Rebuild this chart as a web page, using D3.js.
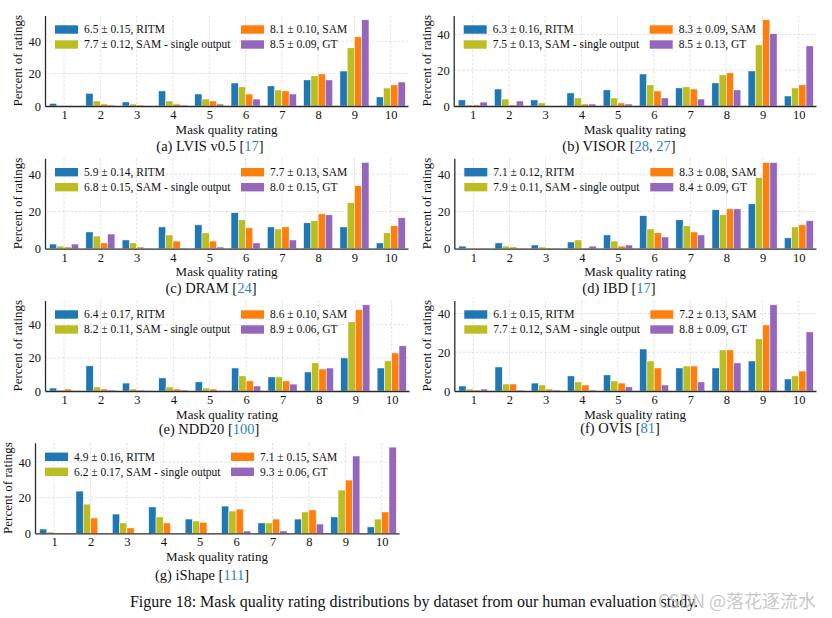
<!DOCTYPE html>
<html>
<head>
<meta charset="utf-8">
<script src="https://cdn.jsdelivr.net/npm/d3@7"></script>
<style>
  html, body { margin: 0; padding: 0; background: #fff; }
  svg { display: block; }
</style>
</head>
<body>
<svg id="chart" width="832" height="618"></svg>
<script>
// ---------------- DATA ----------------
const ratings = [1, 2, 3, 4, 5, 6, 7, 8, 9, 10];
const yTicks = [0, 20, 40];
const seriesNames = ["RITM", "SAM - single output", "SAM", "GT"];

// each: [RITM, SAM - single output, SAM, GT] percentages for ratings 1..10
const lvisValues = [
  [1.6, 7.8, 2.5, 9.3, 7.4, 14.2, 12.4, 16.1, 21.6, 5.6],
  [0.1, 3.1, 1.2, 3.1, 4.3, 11.8, 9.9, 18.6, 35.9, 11.1],
  [0.1, 1.2, 0.6, 1.2, 3.1, 7.4, 9.3, 19.8, 42.7, 13.0],
  [0.0, 0.6, 0.0, 0.6, 1.2, 4.3, 7.4, 16.1, 53.2, 14.8]
];
const lvisScores = ["6.5 ± 0.15", "7.7 ± 0.12", "8.1 ± 0.10", "8.5 ± 0.09"];

const visorValues = [
  [3.4, 9.5, 3.4, 7.3, 9.0, 17.9, 10.1, 12.9, 19.6, 5.6],
  [0.6, 3.9, 1.7, 4.5, 4.5, 11.8, 10.7, 17.4, 34.2, 10.1],
  [0.6, 0.6, 0.0, 1.1, 1.7, 8.4, 9.5, 18.5, 48.2, 11.8],
  [2.2, 2.8, 0.0, 1.1, 1.1, 4.5, 3.9, 9.0, 40.4, 33.6]
];
const visorScores = ["6.3 ± 0.16", "7.5 ± 0.13", "8.3 ± 0.09", "8.5 ± 0.13"];

const dramValues = [
  [2.5, 9.0, 4.7, 11.7, 12.8, 19.3, 11.7, 13.9, 11.7, 3.1],
  [1.4, 6.8, 3.1, 7.4, 8.5, 15.5, 10.6, 15.0, 24.7, 8.5],
  [0.9, 3.1, 0.9, 4.1, 4.1, 11.2, 11.7, 18.7, 33.9, 12.3],
  [2.5, 7.9, 0.1, 0.2, 0.9, 3.1, 4.7, 18.2, 46.3, 16.6]
];
const dramScores = ["5.9 ± 0.14", "6.8 ± 0.15", "7.7 ± 0.13", "8.0 ± 0.15"];

const ibdValues = [
  [1.4, 3.1, 2.0, 3.6, 7.4, 17.7, 15.5, 20.9, 24.1, 5.8],
  [0.1, 1.4, 0.9, 4.7, 4.1, 10.6, 12.3, 18.2, 38.2, 11.7],
  [0.1, 0.9, 0.1, 0.1, 1.4, 8.5, 9.0, 21.4, 46.3, 12.8],
  [0.1, 0.1, 0.1, 1.4, 2.0, 6.3, 7.4, 21.4, 46.3, 15.0]
];
const ibdScores = ["7.1 ± 0.12", "7.9 ± 0.11", "8.3 ± 0.08", "8.4 ± 0.09"];

const nddValues = [
  [1.8, 15.2, 4.8, 7.9, 5.5, 13.9, 8.5, 11.5, 20.0, 13.9],
  [0.6, 2.4, 1.2, 2.4, 1.8, 9.1, 8.5, 17.0, 41.8, 18.2],
  [1.2, 1.2, 0.6, 1.2, 1.2, 6.1, 6.1, 13.3, 49.1, 23.0],
  [0.1, 0.6, 0.1, 0.6, 0.1, 3.0, 4.2, 13.9, 52.1, 27.3]
];
const nddScores = ["6.4 ± 0.17", "8.2 ± 0.11", "8.6 ± 0.10", "8.9 ± 0.06"];

const ovisValues = [
  [2.6, 12.4, 4.1, 7.8, 8.3, 21.7, 11.9, 11.9, 15.5, 6.2],
  [1.0, 3.6, 3.1, 4.7, 5.2, 15.5, 12.9, 21.2, 26.9, 7.8],
  [0.5, 3.6, 1.0, 3.1, 4.1, 11.9, 12.9, 21.2, 34.1, 10.3],
  [1.0, 0.5, 0.5, 0.5, 2.1, 3.1, 4.7, 14.5, 44.5, 30.5]
];
const ovisScores = ["6.1 ± 0.15", "7.7 ± 0.12", "7.2 ± 0.13", "8.8 ± 0.09"];

const ishapeValues = [
  [2.4, 23.7, 10.8, 14.8, 8.0, 15.3, 5.8, 8.0, 9.2, 3.6],
  [0.7, 16.4, 5.8, 9.2, 6.9, 12.5, 5.8, 12.0, 24.3, 8.0],
  [0.1, 8.6, 3.0, 5.8, 6.2, 13.6, 8.0, 13.1, 29.9, 12.0],
  [0.1, 0.1, 0.1, 0.1, 0.1, 1.3, 1.3, 5.2, 43.4, 48.4]
];
const ishapeScores = ["4.9 ± 0.16", "6.2 ± 0.17", "7.1 ± 0.15", "9.3 ± 0.06"];

// caption parts: [text, isCitation]
const captionA = [["(a) LVIS v0.5 [", false], ["17", true], ["]", false]];
const captionB = [["(b) VISOR [", false], ["28", true], [", ", false], ["27", true], ["]", false]];
const captionC = [["(c) DRAM [", false], ["24", true], ["]", false]];
const captionD = [["(d) IBD [", false], ["17", true], ["]", false]];
const captionE = [["(e) NDD20 [", false], ["100", true], ["]", false]];
const captionF = [["(f) OVIS [", false], ["81", true], ["]", false]];
const captionG = [["(g) iShape [", false], ["111", true], ["]", false]];

const xLabel = "Mask quality rating";
const yLabel = "Percent of ratings";
const figureCaption = "Figure 18: Mask quality rating distributions by dataset from our human evaluation study.";
const watermark = "CSDN @落花逐流水";

// ---------------- STYLE / LAYOUT ----------------
const seriesColors = ["#1f77b4", "#bcbd22", "#ff7f0e", "#9467bd"];
const citeColor = "#2f7fc8";
const FONT = "'Liberation Serif', 'Times New Roman', serif";

const panels = [
  { values: lvisValues,   scores: lvisScores,   caption: captionA, L: 45,    R: 408, B: 106,   capX: 210, capY: 146 },
  { values: visorValues,  scores: visorScores,  caption: captionB, L: 453.7, R: 816, B: 106,   capX: 619, capY: 146 },
  { values: dramValues,   scores: dramScores,   caption: captionC, L: 45,    R: 408, B: 248.7, capX: 211, capY: 287.5 },
  { values: ibdValues,    scores: ibdScores,    caption: captionD, L: 454.3, R: 816, B: 248.7, capX: 619, capY: 287.5 },
  { values: nddValues,    scores: nddScores,    caption: captionE, L: 45,    R: 409, B: 391,   capX: 209, capY: 428.5 },
  { values: ovisValues,   scores: ovisScores,   caption: captionF, L: 454.3, R: 816, B: 391,   capX: 620, capY: 428 },
  { values: ishapeValues, scores: ishapeScores, caption: captionG, L: 35,    R: 399, B: 533.3, capX: 202, capY: 574.5 }
];
const plotH = 90.5;

const svg = d3.select("#chart");
svg.append("rect").attr("width", 832).attr("height", 618).attr("fill", "#fff");

panels.forEach(p => {
  const T = p.B - plotH;
  const g = svg.append("g");
  const maxV = d3.max(p.values.flat());
  const x = d3.scaleLinear().domain([0.475, 10.475]).range([p.L, p.R]);
  const y = d3.scaleLinear().domain([0, maxV * 1.05]).range([p.B, T]);
  const unit = x(1) - x(0);
  const barW = 0.2 * unit;

  // grid
  g.selectAll(".vgrid").data(ratings).join("line")
    .attr("x1", d => x(d)).attr("x2", d => x(d))
    .attr("y1", T).attr("y2", p.B)
    .attr("stroke", "#d9d9d9").attr("stroke-width", 0.8).attr("stroke-dasharray", "2.5,1.8");
  g.selectAll(".hgrid").data(yTicks.filter(t => t > 0)).join("line")
    .attr("x1", p.L).attr("x2", p.R)
    .attr("y1", d => y(d)).attr("y2", d => y(d))
    .attr("stroke", "#d9d9d9").attr("stroke-width", 0.8).attr("stroke-dasharray", "2.5,1.8");

  // bars
  p.values.forEach((vals, si) => {
    g.selectAll(".bar" + si).data(vals).join("rect")
      .attr("x", (d, i) => x(ratings[i]) + (si - 2) * barW)
      .attr("y", d => y(d))
      .attr("width", barW)
      .attr("height", d => p.B - y(d))
      .attr("fill", seriesColors[si])
      .attr("stroke", "#fff").attr("stroke-width", 0.5);
  });

  // axes
  const xAxis = d3.axisBottom(x).tickValues(ratings).tickSize(0).tickPadding(4);
  const xg = g.append("g").attr("transform", `translate(0,${p.B})`).call(xAxis);
  xg.select(".domain").attr("stroke", "#2b2b2b").attr("stroke-width", 1.3);
  xg.selectAll("text").attr("font-family", FONT).attr("font-size", 12.5).attr("fill", "#111")
    .attr("dy", "0.71em").attr("y", 4);

  const yAxis = d3.axisLeft(y).tickValues(yTicks).tickSize(0).tickPadding(4);
  const yg = g.append("g").attr("transform", `translate(${p.L},0)`).call(yAxis);
  yg.select(".domain").attr("stroke", "#2b2b2b").attr("stroke-width", 1.3);
  yg.selectAll("text").attr("font-family", FONT).attr("font-size", 12.5).attr("fill", "#111");

  // axis labels
  g.append("text").attr("x", (p.L + p.R) / 2).attr("y", p.B + 27.5)
    .attr("text-anchor", "middle").attr("font-family", FONT).attr("font-size", 13).attr("fill", "#111")
    .text(xLabel);
  g.append("text").attr("transform", `translate(${p.L - 23},${(T + p.B) / 2}) rotate(-90)`)
    .attr("text-anchor", "middle").attr("font-family", FONT).attr("font-size", 13).attr("fill", "#111")
    .text(yLabel);

  // legend
  const legPos = [[10, 14], [10, 29], [196, 14], [196, 29]];
  seriesNames.forEach((name, si) => {
    const [lx, ly] = legPos[si];
    g.append("rect").attr("x", p.L + lx).attr("y", T + ly - 4.2).attr("width", 23).attr("height", 8.4)
      .attr("fill", seriesColors[si]);
    g.append("text").attr("x", p.L + lx + 29).attr("y", T + ly + 3.8)
      .attr("font-family", FONT).attr("font-size", 11.5).attr("fill", "#111")
      .text(p.scores[si] + ", " + name);
  });

  // caption
  const cap = g.append("text").attr("x", p.capX).attr("y", p.capY + 5)
    .attr("text-anchor", "middle").attr("font-family", FONT).attr("font-size", 14.5).attr("fill", "#111");
  p.caption.forEach(([t, isCite]) => {
    cap.append("tspan").text(t).attr("fill", isCite ? citeColor : "#111");
  });
});

// figure caption
svg.append("text").attr("x", 414).attr("y", 607)
  .attr("text-anchor", "middle").attr("font-family", FONT).attr("font-size", 16).attr("fill", "#111")
  .text(figureCaption);

svg.append("text").attr("x", 816).attr("y", 608)
  .attr("text-anchor", "end").attr("font-family", "'Noto Sans CJK SC', 'Noto Sans', sans-serif")
  .attr("font-size", 18).attr("fill", "#bdbdbd").attr("fill-opacity", 0.85)
  .text(watermark);
</script>
</body>
</html>
